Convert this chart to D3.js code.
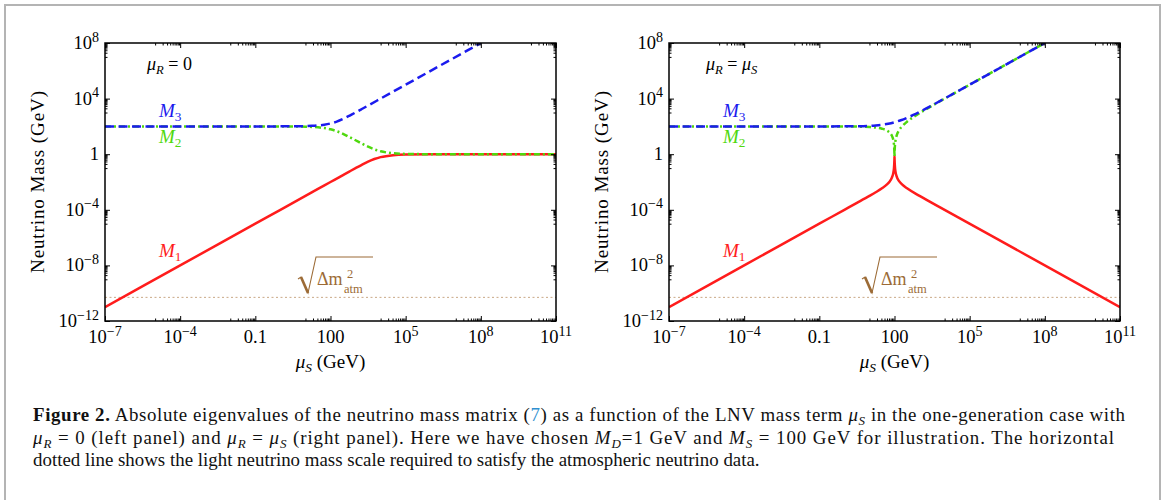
<!DOCTYPE html>
<html>
<head>
<meta charset="utf-8">
<script src="https://cdn.jsdelivr.net/npm/d3@7"></script>
<style>
  body { margin: 0; background: #fff; }
  svg { display: block; }
</style>
</head>
<body>
<svg id="fig"></svg>
<script>
const width = 1165;
const height = 500;

// curves as [log10(muS / GeV), log10(M / GeV)]
const leftM1 = [[-7,-11],[-4,-8],[-1,-5],[0,-4],[1,-3],[1.5,-2.5],[2,-2.0],[2.5,-1.5],[2.75,-1.251],
  [3,-1.004],[3.25,-0.763],[3.5,-0.538],[3.75,-0.348],[4,-0.209],[4.5,-0.068],[5,-0.022],[6,-0.002],[11,0]];
const leftM2 = [[-7,2],[-1,1.9998],[0,1.998],[0.5,1.993],[1,1.978],[1.25,1.961],[1.5,1.932],[1.75,1.88],
  [2,1.791],[2.25,1.652],[2.5,1.463],[2.75,1.2385],[3,1.004],[3.25,0.763],[3.5,0.538],[3.75,0.348],
  [4,0.209],[4.5,0.068],[5,0.022],[6,0.002],[11,0]];
const leftM3 = [[-7,2],[-1,2.0002],[0,2.002],[0.5,2.0069],[1,2.022],[1.25,2.0386],[1.5,2.068],[1.75,2.1206],
  [2,2.209],[2.25,2.348],[2.5,2.538],[2.75,2.763],[3,3.004],[3.25,3.2513],[3.5,3.5004],[4,4],[8,8]];

const rightM1 = [[-7,-11],[-4,-8],[-1,-5],[0,-4],[0.5,-3.5],[1,-2.996],[1.25,-2.736],[1.5,-2.455],[1.7,-2.175],
  [1.8,-1.98],[1.85,-1.848],[1.9031,-1.653],[1.954,-1.326],[1.978,-1.02],[1.9912,-0.653],[1.9956,-0.439],
  [1.9978,-0.303],[2,-0.15],[2.0022,-0.299],[2.0043,-0.434],[2.0086,-0.644],[2.0212,-0.998],[2.0414,-1.281],
  [2.0792,-1.564],[2.114,-1.725],[2.176,-1.921],[2.301,-2.176],[2.5,-2.454],[3,-2.996],[4,-4],[7,-7],[11,-11]];
const rightM2 = [[-7,2],[-1,2.0],[0,1.9957],[0.5,1.986],[1,1.954],[1.25,1.915],[1.5,1.835],[1.7,1.698],
  [1.8,1.567],[1.85,1.465],[1.9031,1.301],[1.954,1.002],[1.978,0.707],[1.9912,0.347],[1.9956,0.135],
  [1.9978,0.001],[2,-0.15],[2.0022,0.0],[2.0043,0.133],[2.0086,0.347],[2.0212,0.708],[2.0414,1.002],
  [2.0792,1.302],[2.176,1.699],[2.301,2.0],[2.5,2.335],[2.75,2.665],[3,2.954],[3.25,3.225],[3.5,3.486],
  [4,3.996],[5,5.0],[8,8]];
const rightM3 = [[-7,2],[-1,2.0004],[0,2.0043],[0.5,2.0135],[1,2.0414],[1.25,2.071],[1.5,2.119],[1.75,2.194],
  [2,2.301],[2.25,2.444],[2.5,2.619],[2.75,2.821],[3,3.041],[3.25,3.274],[3.5,3.514],[4,4.004],[5,5.0004],[8,8]];

const atmLog = -10.3;

const xTickExp = [-7, -4, -1, 2, 5, 8, 11];
const xTickLabels = [['10','−7'],['10','−4'],['0.1',''],['100',''],['10','5'],['10','8'],['10','11']];
const yTickExp = [8, 4, 0, -4, -8, -12];
const yTickLabels = [['10','8'],['10','4'],['1',''],['10','−4'],['10','−8'],['10','−12']];

const red = '#ff1c1c';
const green = '#4fd80e';
const blue = '#1b1bee';
const serif = '"Liberation Serif", "Times New Roman", serif';

const plotTop = 43, plotBottom = 321, plotW = 451;

const svg = d3.select('#fig')
    .attr('width', width)
    .attr('height', height)
    .attr('font-family', serif);

// grey page frame
svg.append('rect')
    .attr('x', 5).attr('y', 5)
    .attr('width', 1155).attr('height', 620)
    .attr('fill', 'none')
    .attr('stroke', '#b4b4b4')
    .attr('stroke-width', 2);

const panels = [
    { id: 'l', x0: 105, m1: leftM1, m2: leftM2, m3: leftM3, tagX: 42, right: false },
    { id: 'r', x0: 669, m1: rightM1, m2: rightM2, m3: rightM3, tagX: 37, right: true }
];

function sub(text, main, subTxt, italicSub) {
    text.append('tspan').attr('font-style', 'italic').text(main);
    text.append('tspan').attr('font-size', '0.7em').attr('dy', 4)
        .attr('font-style', italicSub ? 'italic' : 'normal').text(subTxt);
}

panels.forEach(p => {
    const x = d3.scaleLog().domain([1e-7, 1e11]).range([p.x0, p.x0 + plotW]);
    const y = d3.scaleLog().domain([1e-12, 1e8]).range([plotBottom, plotTop]);
    const g = svg.append('g');

    svg.append('clipPath').attr('id', 'clip-' + p.id)
        .append('rect')
        .attr('x', p.x0).attr('y', plotTop)
        .attr('width', plotW).attr('height', plotBottom - plotTop);

    // atmospheric scale
    g.append('line')
        .attr('x1', x(1e-7)).attr('x2', x(1e11))
        .attr('y1', y(10 ** atmLog)).attr('y2', y(10 ** atmLog))
        .attr('stroke', '#c9a886')
        .attr('stroke-width', 1)
        .attr('stroke-dasharray', '2,2.5');

    const line = d3.line()
        .x(d => x(10 ** d[0]))
        .y(d => y(10 ** d[1]))
        .curve(d3.curveMonotoneX);

    const curves = g.append('g').attr('clip-path', `url(#clip-${p.id})`);
    curves.append('path').datum(p.m1)
        .attr('d', line).attr('fill', 'none')
        .attr('stroke', red).attr('stroke-width', 2.5);
    curves.append('path').datum(p.m2)
        .attr('d', line).attr('fill', 'none')
        .attr('stroke', green).attr('stroke-width', 2.5)
        .attr('stroke-dasharray', '6,3,2,3');
    curves.append('path').datum(p.m3)
        .attr('d', line).attr('fill', 'none')
        .attr('stroke', blue).attr('stroke-width', 2.5)
        .attr('stroke-dasharray', '9,4.5');

    // ticks on all four sides, pointing inward
    const xMaj = xTickExp.map(e => 10 ** e);
    const xMin = xTickExp.slice(1).flatMap(e => d3.range(1, 10).map(k => k * 10 ** (e - 1)));
    const yMaj = yTickExp.map(e => 10 ** e);
    const yMin = yTickExp.slice(0, -1).flatMap(e => d3.range(1, 10).map(k => k * 10 ** (e - 1)));

    const sides = [
        [d3.axisBottom, x, xMaj, xMin, `translate(0,${plotBottom})`],
        [d3.axisTop, x, xMaj, xMin, `translate(0,${plotTop})`],
        [d3.axisLeft, y, yMaj, yMin, `translate(${p.x0},0)`],
        [d3.axisRight, y, yMaj, yMin, `translate(${p.x0 + plotW},0)`]
    ];
    sides.forEach(([axis, sc, maj, min, tr]) => {
        [[maj, -5], [min, -2.5]].forEach(([vals, len]) => {
            const a = g.append('g')
                .attr('transform', tr)
                .call(axis(sc).tickValues(vals).tickSize(len).tickFormat(''));
            a.select('.domain').remove();
            a.selectAll('line').attr('stroke', '#000').attr('stroke-width', 1);
        });
    });

    g.append('rect')
        .attr('x', p.x0).attr('y', plotTop)
        .attr('width', plotW).attr('height', plotBottom - plotTop)
        .attr('fill', 'none').attr('stroke', '#000').attr('stroke-width', 1.5);

    // tick labels
    xTickExp.forEach((e, i) => {
        const t = g.append('text')
            .attr('x', x(10 ** e)).attr('y', 343)
            .attr('text-anchor', 'middle')
            .attr('font-size', 18.5);
        t.append('tspan').text(xTickLabels[i][0]);
        if (xTickLabels[i][1]) t.append('tspan').attr('dy', -7.5).attr('font-size', 14).text(xTickLabels[i][1]);
    });
    yTickExp.forEach((e, i) => {
        const t = g.append('text')
            .attr('x', p.x0 - 6).attr('y', y(10 ** e) + 6)
            .attr('text-anchor', 'end')
            .attr('font-size', 18.5);
        t.append('tspan').text(yTickLabels[i][0]);
        if (yTickLabels[i][1]) t.append('tspan').attr('dy', -7.5).attr('font-size', 14).text(yTickLabels[i][1]);
    });

    // axis titles
    g.append('text')
        .attr('transform', `translate(${p.x0 - 61},182) rotate(-90)`)
        .attr('text-anchor', 'middle')
        .attr('font-size', 19)
        .attr('textLength', 182)
        .text('Neutrino Mass (GeV)');
    const xt = g.append('text')
        .attr('x', p.x0 + plotW / 2).attr('y', 368)
        .attr('text-anchor', 'middle')
        .attr('font-size', 19);
    sub(xt, 'μ', 'S', true);
    xt.append('tspan').attr('dy', -4).text(' (GeV)');

    // panel tag
    const tag = g.append('text')
        .attr('x', p.x0 + p.tagX).attr('y', 70)
        .attr('font-size', 18);
    sub(tag, 'μ', 'R', true);
    tag.append('tspan').attr('dy', -4).text(' = ');
    if (p.right) sub(tag, 'μ', 'S', true);
    else tag.append('tspan').text('0');

    // curve names
    [['3', blue, 117], ['2', green, 143], ['1', red, 257]].forEach(([n, c, yy]) => {
        const t = g.append('text')
            .attr('x', p.x0 + 54).attr('y', yy)
            .attr('font-size', 19)
            .attr('fill', c);
        sub(t, 'M', n, false);
    });

    // sqrt(Δm²_atm) label
    const brown = '#9c6b36';
    const ax = p.x0 + 193;
    g.append('path')
        .attr('d', `M${ax},${279} L${ax + 3},${277} L${ax + 10},${293} L${ax + 18},${257} L${ax + 75},${257}`)
        .attr('fill', 'none').attr('stroke', brown).attr('stroke-width', 1.1);
    g.append('path')
        .attr('d', `M${ax + 3},${277} L${ax + 10},${293}`)
        .attr('stroke', brown).attr('stroke-width', 2.6);
    g.append('text')
        .attr('x', ax + 19).attr('y', 285)
        .attr('font-size', 18).attr('fill', brown)
        .text('Δm');
    g.append('text')
        .attr('x', ax + 49).attr('y', 278)
        .attr('font-size', 12.5).attr('fill', brown)
        .text('2');
    g.append('text')
        .attr('x', ax + 46).attr('y', 293)
        .attr('font-size', 12.5).attr('fill', brown)
        .text('atm');
});

// caption
const captionLines = [
    [{ t: 'Figure 2.', b: true }, { t: ' Absolute eigenvalues of the neutrino mass matrix (' }, { t: '7', c: '#2f8fd0' },
     { t: ') as a function of the LNV mass term ' }, { t: 'μ', i: true }, { t: 'S', i: true, s: true },
     { t: ' in the one-generation case with' }],
    [{ t: 'μ', i: true }, { t: 'R', i: true, s: true }, { t: ' = 0 (left panel) and ' }, { t: 'μ', i: true },
     { t: 'R', i: true, s: true }, { t: ' = ' }, { t: 'μ', i: true }, { t: 'S', i: true, s: true },
     { t: ' (right panel). Here we have chosen ' }, { t: 'M', i: true }, { t: 'D', i: true, s: true },
     { t: '=1 GeV and ' }, { t: 'M', i: true }, { t: 'S', i: true, s: true },
     { t: ' = 100 GeV for illustration. The horizontal' }],
    [{ t: 'dotted line shows the light neutrino mass scale required to satisfy the atmospheric neutrino data.' }]
];
const captionY = [421, 443.5, 466];
const captionLen = [1092, 1081, null];

captionLines.forEach((segs, li) => {
    const t = svg.append('text')
        .attr('x', 33).attr('y', captionY[li])
        .attr('font-size', 18.9)
        .attr('fill', '#111');
    if (captionLen[li]) t.attr('textLength', captionLen[li]).attr('lengthAdjust', 'spacing');
    let shifted = false;
    segs.forEach(s => {
        const ts = t.append('tspan').text(s.t);
        if (s.b) ts.attr('font-weight', 'bold');
        if (s.i) ts.attr('font-style', 'italic');
        if (s.c) ts.attr('fill', s.c);
        if (s.s) { ts.attr('dy', 4).attr('font-size', 13); shifted = true; }
        else if (shifted) { ts.attr('dy', -4); shifted = false; }
    });
});
</script>
</body>
</html>
